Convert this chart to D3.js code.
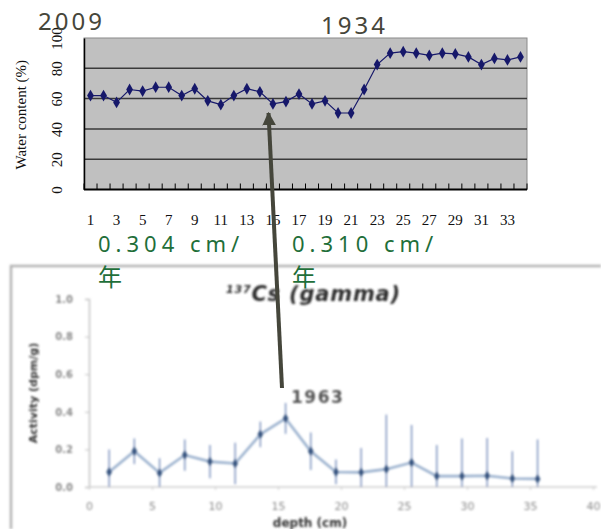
<!DOCTYPE html>
<html>
<head>
<meta charset="utf-8">
<script src="https://cdn.jsdelivr.net/npm/d3@7/dist/d3.min.js"></script>
<style>
  html, body { margin: 0; padding: 0; background: #fff; }
  svg { display: block; }
</style>
</head>
<body>
<script>
// Water content profile (upper panel): sample number vs. water content in %
const sampleNo = d3.range(1, 35).map(String);
const waterContent = [62, 62, 57.5, 66, 65, 67.5, 67.5, 62, 66.5, 58.5, 56, 62, 66.5, 64.5,
  56.5, 58, 63, 56.5, 58.5, 50.5, 50.5, 66, 82.5, 90, 91, 90, 88.5, 90, 89.5, 87.5,
  82.5, 86.5, 85.5, 87.5];
const waterTicks = [0, 20, 40, 60, 80, 100];
const waterLabelEvery = 2;

// 137Cs activity profile (lower panel)
const csDepth = [1.6, 3.6, 5.6, 7.6, 9.6, 11.6, 13.6, 15.6, 17.6, 19.6, 21.6, 23.6, 25.6,
  27.6, 29.6, 31.6, 33.6, 35.6];
const csActivity = [0.08, 0.19, 0.075, 0.17, 0.135, 0.125, 0.28, 0.365, 0.19, 0.08, 0.078,
  0.095, 0.13, 0.058, 0.058, 0.06, 0.045, 0.043];
const csError = [0.12, 0.068, 0.078, 0.083, 0.088, 0.11, 0.068, 0.082, 0.1, 0.066, 0.13,
  0.29, 0.2, 0.165, 0.2, 0.2, 0.145, 0.21];
const csYTicks = [0, 0.2, 0.4, 0.6, 0.8, 1.0];
const csXTicks = [0, 5, 10, 15, 20, 25, 30, 35, 40];

// Annotations
const yearLabels = [{ text: "2009", x: 38, y: 30 }, { text: "1934", x: 321, y: 34 }];
const rateLabels = [{ rate: "0.304 cm/", unit: "年", x: 98 }, { rate: "0.310 cm/", unit: "年", x: 292 }];
const peakYear = "1963";

const W = 601, H = 529;
const svg = d3.select("body").append("svg").attr("width", W).attr("height", H);

const defs = svg.append("defs");
defs.append("filter").attr("id", "soft").attr("x", "-5%").attr("y", "-5%")
  .attr("width", "110%").attr("height", "110%")
  .append("feGaussianBlur").attr("stdDeviation", 0.9);
defs.append("marker").attr("id", "head").attr("viewBox", "0 0 10 10")
  .attr("refX", 9).attr("refY", 5).attr("markerWidth", 3.4).attr("markerHeight", 3.4)
  .attr("markerUnits", "strokeWidth").attr("orient", "auto")
  .append("path").attr("d", "M0,0 L10,5 L0,10 Z").attr("fill", "#45463b");

// ---------------- Lower panel: 137Cs activity ----------------
const lower = svg.append("g").attr("filter", "url(#soft)");
lower.append("path").attr("d", `M11,${H} V266 H${W}`).attr("fill", "none")
  .attr("stroke", "#b4b4b4").attr("stroke-width", 2.5);

const cx = d3.scaleLinear().domain([0, 40]).range([89, 593]);
const cy = d3.scaleLinear().domain([0, 1]).range([487, 299]);

const cyAxis = lower.append("g").attr("transform", `translate(${cx(0)},0)`)
  .call(d3.axisLeft(cy).tickValues(csYTicks).tickFormat(d3.format(".1f")).tickSize(4).tickPadding(12));
cyAxis.select(".domain").attr("stroke", "#c4c4c4").attr("stroke-width", 1.5);
cyAxis.selectAll(".tick line").attr("stroke", "#c4c4c4");
cyAxis.selectAll(".tick text").attr("fill", "#8a8a8a").attr("font-size", 10)
  .attr("font-weight", "bold").attr("font-family", "DejaVu Sans, sans-serif");

const cxAxis = lower.append("g").attr("transform", `translate(0,${cy(0)})`)
  .call(d3.axisBottom(cx).tickValues(csXTicks).tickSize(3).tickPadding(12));
cxAxis.select(".domain").attr("stroke", "#cfcfcf").attr("stroke-width", 1.5)
  .attr("d", `M${cx(0)},0H${cx(40) + 4}`);
cxAxis.selectAll(".tick line").attr("stroke", "#cfcfcf");
cxAxis.selectAll(".tick text").attr("fill", "#8a8a8a").attr("font-size", 11)
  .attr("font-family", "DejaVu Sans, sans-serif");

lower.append("text").attr("transform", `translate(37,${(cy(0) + cy(1)) / 2}) rotate(-90)`)
  .attr("text-anchor", "middle").attr("font-family", "DejaVu Sans, sans-serif")
  .attr("font-weight", "bold").attr("font-size", 11).attr("fill", "#333")
  .text("Activity (dpm/g)");
lower.append("text").attr("x", 310).attr("y", 527).attr("text-anchor", "middle")
  .attr("font-family", "DejaVu Sans, sans-serif").attr("font-weight", "bold")
  .attr("font-size", 12).attr("fill", "#333").text("depth (cm)");

const title = lower.append("text").attr("x", 226).attr("y", 301)
  .attr("font-family", "DejaVu Sans, sans-serif").attr("font-weight", "bold")
  .attr("font-style", "italic").attr("fill", "#2e2e2e").attr("letter-spacing", 0.8);
title.append("tspan").attr("font-size", 11).attr("dy", -8).text("137");
title.append("tspan").attr("font-size", 21).attr("dy", 8).text("Cs (gamma)");

const csData = csDepth.map((d, i) => ({ d, v: csActivity[i], e: csError[i] }));
lower.append("g").selectAll("line").data(csData).join("line")
  .attr("x1", p => cx(p.d)).attr("x2", p => cx(p.d))
  .attr("y1", p => cy(p.v + p.e)).attr("y2", p => cy(Math.max(0, p.v - p.e)))
  .attr("stroke", "#6f87b8").attr("stroke-width", 1.3);
lower.append("path").datum(csData)
  .attr("d", d3.line().x(p => cx(p.d)).y(p => cy(p.v)))
  .attr("fill", "none").attr("stroke", "#9cb2cf").attr("stroke-width", 2.6);
lower.append("g").selectAll("path").data(csData).join("path")
  .attr("transform", p => `translate(${cx(p.d)},${cy(p.v)})`)
  .attr("d", d3.symbol(d3.symbolDiamond, 28))
  .attr("fill", "#34527f");

lower.append("text").attr("x", 291).attr("y", 403)
  .attr("font-family", "DejaVu Sans, sans-serif").attr("font-weight", "bold")
  .attr("font-size", 17).attr("letter-spacing", 1.5).attr("fill", "#555").text(peakYear);

// ---------------- Upper panel: water content ----------------
const upper = svg.append("g");
const wx = d3.scaleBand().domain(sampleNo).range([84, 527]);
const wy = d3.scaleLinear().domain([0, 100]).range([189.5, 38]);

upper.append("rect").attr("x", wx.range()[0]).attr("y", wy(100))
  .attr("width", wx.range()[1] - wx.range()[0]).attr("height", wy(0) - wy(100))
  .attr("fill", "#c0c0c0").attr("stroke", "#8a8a8a").attr("stroke-width", 1);

upper.append("g").selectAll("line").data(waterTicks.filter(t => t > 0 && t < 100)).join("line")
  .attr("x1", wx.range()[0]).attr("x2", wx.range()[1])
  .attr("y1", t => wy(t)).attr("y2", t => wy(t))
  .attr("stroke", "#3a3a3a").attr("stroke-width", 1.5);

// y axis with rotated serif labels
const wyAxis = upper.append("g").attr("transform", `translate(${wx.range()[0]},0)`)
  .call(d3.axisLeft(wy).tickValues(waterTicks).tickSize(0).tickFormat(d3.format("d")));
wyAxis.select(".domain").attr("stroke", "#000").attr("stroke-width", 1.5);
wyAxis.selectAll(".tick text")
  .attr("x", null).attr("dy", null)
  .attr("transform", "translate(-27,0) rotate(-90)")
  .attr("text-anchor", "middle").attr("dominant-baseline", "central")
  .attr("font-family", "Liberation Serif, serif").attr("font-size", 15).attr("fill", "#111");

// x axis: ticks on category boundaries, labels every other sample
const boundaries = d3.range(0, sampleNo.length + 1).map(i => wx.range()[0] + i * wx.step());
upper.append("g").selectAll("line").data(boundaries).join("line")
  .attr("x1", b => b).attr("x2", b => b).attr("y1", wy(0)).attr("y2", wy(0) - 6)
  .attr("stroke", "#000").attr("stroke-width", 1);
upper.append("line").attr("x1", wx.range()[0]).attr("x2", wx.range()[1])
  .attr("y1", wy(0)).attr("y2", wy(0)).attr("stroke", "#000").attr("stroke-width", 2);
upper.append("g").selectAll("text").data(sampleNo.filter((s, i) => i % waterLabelEvery === 0)).join("text")
  .attr("x", s => wx(s) + wx.bandwidth() / 2).attr("y", 225)
  .attr("text-anchor", "middle").attr("font-family", "Liberation Serif, serif")
  .attr("font-size", 15).attr("fill", "#111").text(s => s);

upper.append("text")
  .attr("transform", `translate(21,${(wy(0) + wy(100)) / 2 + 1}) rotate(-90)`)
  .attr("text-anchor", "middle").attr("dominant-baseline", "central")
  .attr("font-family", "Liberation Serif, serif").attr("font-size", 15).attr("fill", "#111")
  .text("Water content (%)");

const wData = sampleNo.map((s, i) => ({ s, v: waterContent[i] }));
upper.append("path").datum(wData)
  .attr("d", d3.line().x(p => wx(p.s) + wx.bandwidth() / 2).y(p => wy(p.v)))
  .attr("fill", "none").attr("stroke", "#16186a").attr("stroke-width", 1.2);
upper.append("g").selectAll("path").data(wData).join("path")
  .attr("transform", p => `translate(${wx(p.s) + wx.bandwidth() / 2},${wy(p.v)})`)
  .attr("d", d3.symbol(d3.symbolDiamond, 40))
  .attr("fill", "#16186a");

// ---------------- Annotations ----------------
svg.append("g").selectAll("text").data(yearLabels).join("text")
  .attr("x", d => d.x).attr("y", d => d.y)
  .attr("font-family", "Noto Sans, sans-serif").attr("font-size", 24)
  .attr("letter-spacing", 3).attr("fill", "#46463a").text(d => d.text);

const rl = svg.append("g").selectAll("g").data(rateLabels).join("g");
rl.append("text").attr("x", d => d.x).attr("y", 252)
  .attr("font-family", "Noto Sans, sans-serif").attr("font-size", 22)
  .attr("letter-spacing", 5).attr("fill", "#1f6f3a").text(d => d.rate);
rl.append("text").attr("x", d => d.x).attr("y", 286)
  .attr("font-family", "Noto Sans CJK SC, sans-serif").attr("font-size", 24)
  .attr("fill", "#1f6f3a").text(d => d.unit);

// arrow from the 1963 activity peak up to the matching sample
svg.append("line").attr("x1", 282).attr("y1", 388).attr("x2", 268.5).attr("y2", 113)
  .attr("stroke", "#45463b").attr("stroke-width", 4).attr("marker-end", "url(#head)");
</script>
</body>
</html>
